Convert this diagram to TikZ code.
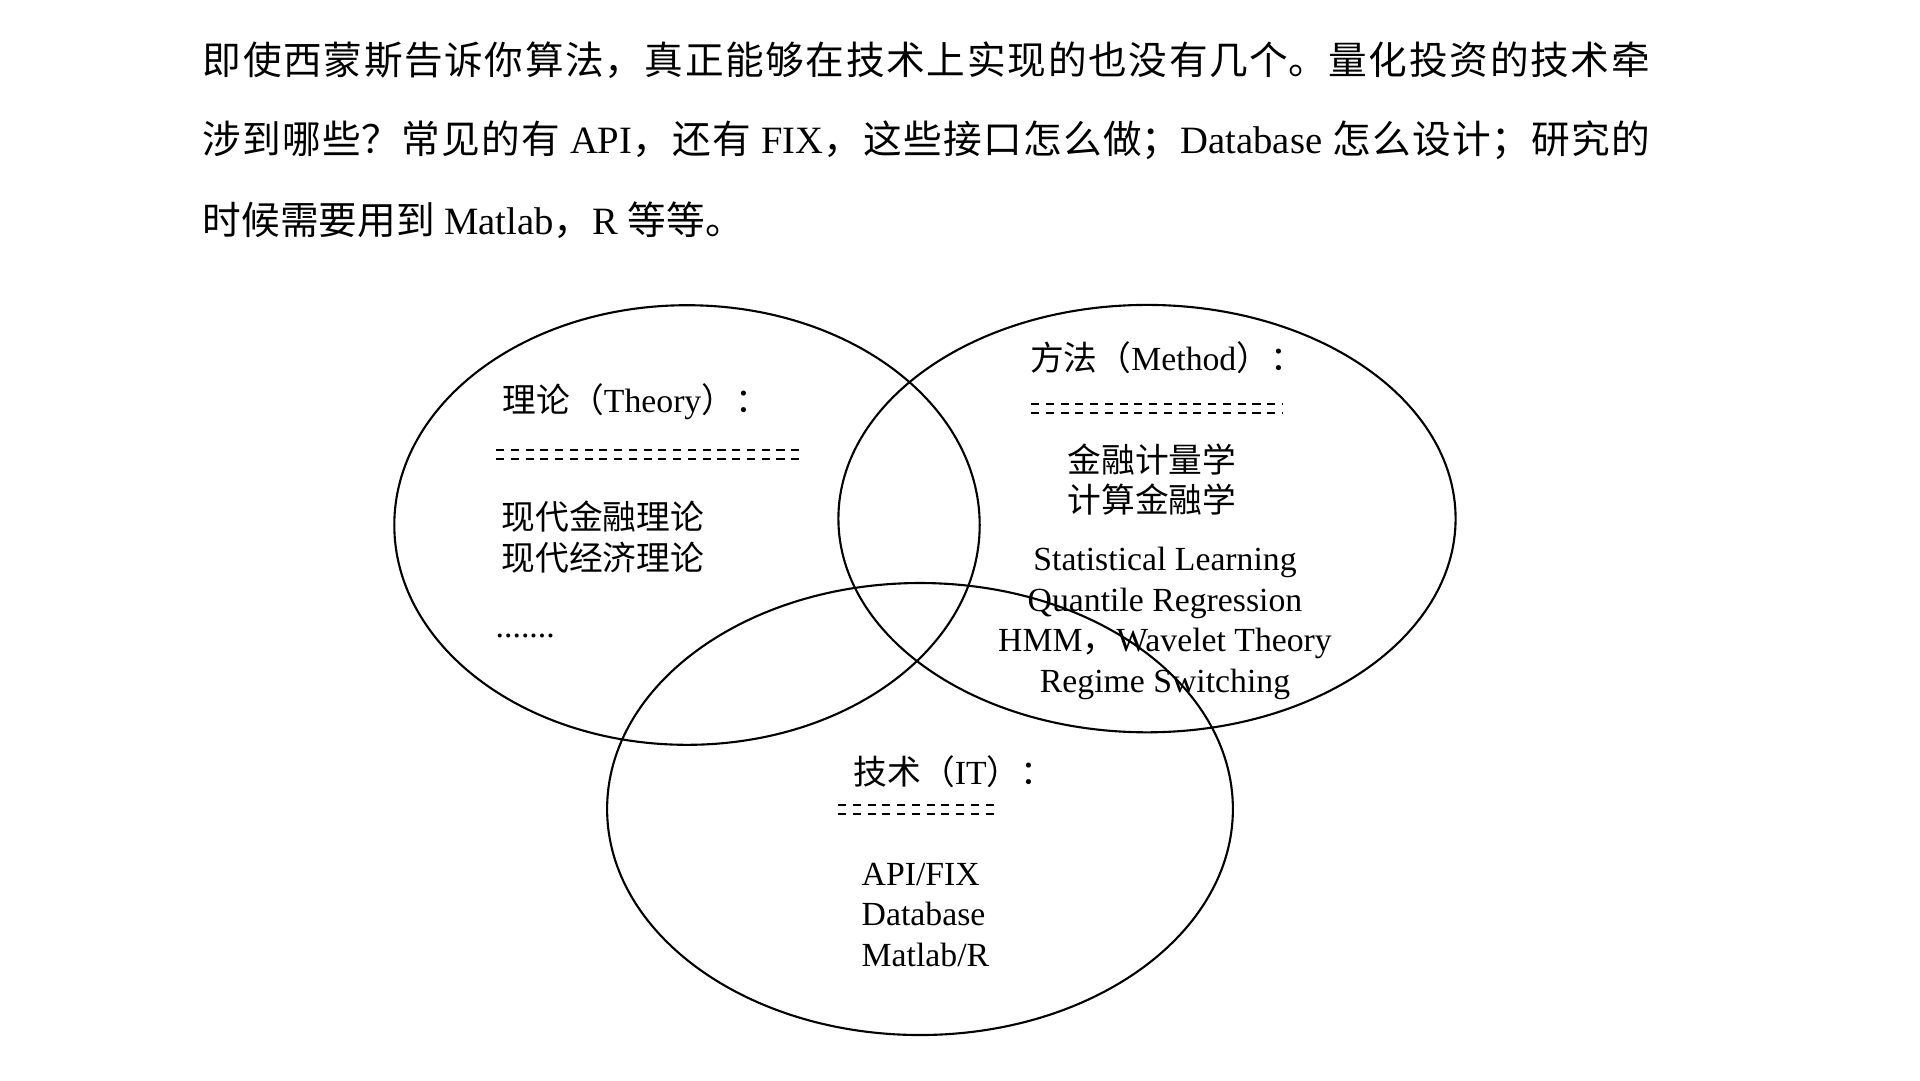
\documentclass[tikz,border=0pt]{standalone}
\usepackage{fontspec}
\setmainfont{Liberation Serif}
\newfontfamily\cjkfont{Noto Sans CJK SC}
\newcommand\zh[1]{{\cjkfont #1}}

\begin{document}
\begin{tikzpicture}[x=0.1mm,y=-0.1mm,
  ring/.style={draw=black, line width=0.6pt},
  rule/.style={draw=black, line width=0.7pt, dash pattern=on 2.3pt off 1.9pt},
  lbl/.style={inner sep=0pt, font=\fontsize{9.6}{11.5}\selectfont, text height=0.75em, text depth=0.2em},
  para/.style={inner sep=0pt, anchor=west, text width=144.7mm, font=\fontsize{11}{14}\selectfont, align=justify, text height=0.8em, text depth=0.2em}
]
\useasboundingbox (0,0) rectangle (1920,1080);
\fill[white] (0,0) rectangle (1920,1080);

% body text above the figure
\node[para] (p1) at (202,64) {\XeTeXlinebreaklocale "zh"\XeTeXlinebreakskip=0pt plus 3pt\parfillskip=0pt
  \zh{即使西蒙斯告诉你算法，真正能够在技术上实现的也没有几个。量化投资的技术牵}\par};
\node[para] (p2) at (202,143) {\XeTeXlinebreaklocale "zh"\XeTeXlinebreakskip=0pt plus 3pt\parfillskip=0pt
  \zh{涉到哪些？常见的有} API\zh{，还有} FIX\zh{，这些接口怎么做；}Database \zh{怎么设计；研究的}\par};
\node[inner sep=0pt, anchor=west, font=\fontsize{11}{14}\selectfont, text height=0.8em, text depth=0.2em]
  (p3) at (202,224) {\zh{时候需要用到} Matlab\zh{，}R \zh{等等。}};

% the three circles
\coordinate (cT) at (687,525);
\coordinate (cM) at (1147,518.6);
\coordinate (cI) at (920,809);
\draw[ring] (cT) ellipse [x radius=292.7, y radius=219.8];
\draw[ring] (cM) ellipse [x radius=308.6, y radius=213.7];
\draw[ring] (cI) ellipse [x radius=312.9, y radius=226];

% Theory
\node[lbl, anchor=west] (thTitle) at (502,403) {\zh{理论（}Theory\zh{）：}};
\draw[rule] (496,450) -- (802,450);
\draw[rule] (496,459) -- (802,459);
\node[lbl, anchor=west] (th1) at (501,520) {\zh{现代金融理论}};
\node[lbl, anchor=west] (th2) at (501,561) {\zh{现代经济理论}};
\node[lbl, anchor=base west] (th3) at (495,637) {.......};

% Method
\node[lbl] (meTitle) at (1167,361) {\zh{方法（}Method\zh{）：}};
\draw[rule] (1031,404) -- (1282,404);
\draw[rule] (1031,413) -- (1282,413);
\node[lbl, anchor=west] (me1) at (1067,463) {\zh{金融计量学}};
\node[lbl, anchor=west] (me2) at (1067,503) {\zh{计算金融学}};
\node[lbl] (me3) at (1165,561) {Statistical Learning};
\node[lbl] (me4) at (1165,602) {Quantile Regression};
\node[lbl] (me5) at (1165,642) {HMM\zh{，}Wavelet Theory};
\node[lbl] (me6) at (1165,683) {Regime Switching};

% IT
\node[lbl, anchor=west] (itTitle) at (853,775) {\zh{技术（}IT\zh{）：}};
\draw[rule] (838,805) -- (998,805);
\draw[rule] (838,814) -- (998,814);
\node[lbl, anchor=west] (it1) at (861,876) {API/FIX};
\node[lbl, anchor=west] (it2) at (861,916) {Database};
\node[lbl, anchor=west] (it3) at (861,957) {Matlab/R};
\end{tikzpicture}
\end{document}
